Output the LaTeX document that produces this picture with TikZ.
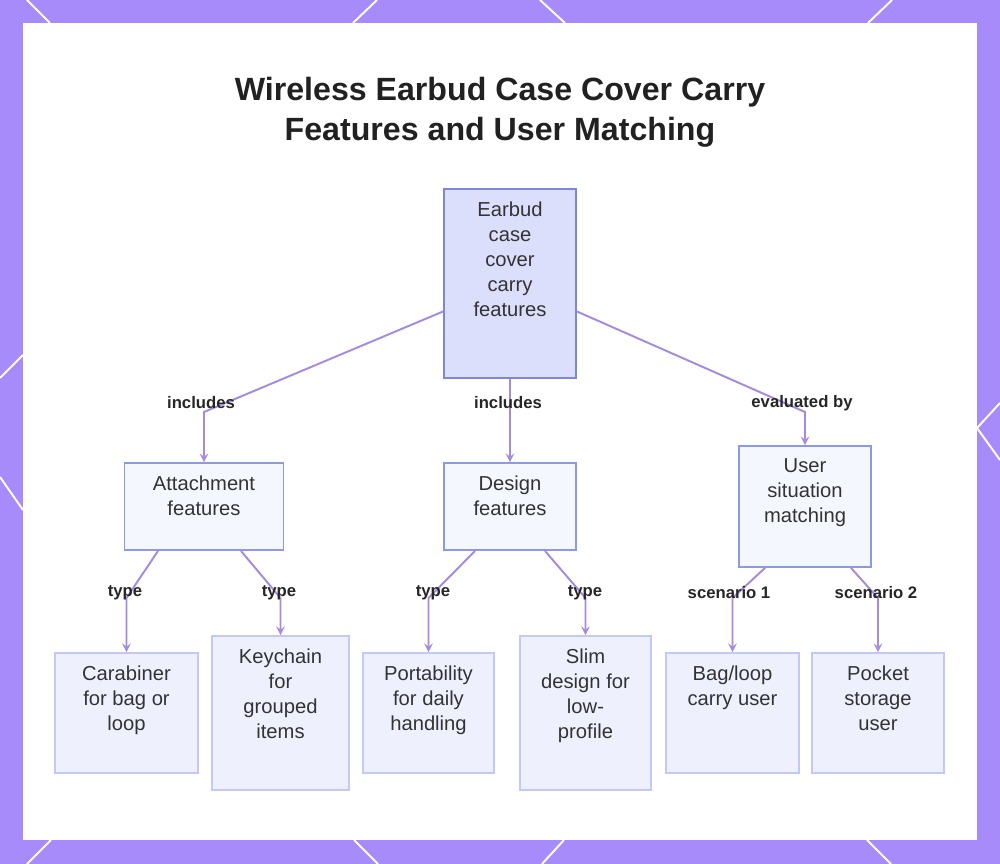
\documentclass[tikz,border=0pt]{standalone}
\usepackage{fontspec}
\setmainfont{Liberation Sans}
\usetikzlibrary{arrows,calc,positioning}
\definecolor{frame}{HTML}{A78BFA}
\definecolor{rootfill}{HTML}{DCDFFC}
\definecolor{rootline}{HTML}{7C87D6}
\definecolor{midfill}{HTML}{F5F7FF}
\definecolor{midline}{HTML}{8A9AE8}
\definecolor{leaffill}{HTML}{EEF1FD}
\definecolor{leafline}{HTML}{C3C9F5}
\definecolor{linkc}{HTML}{A48AE2}
\definecolor{ink}{HTML}{333333}
\newlength\px
\setlength\px{0.02cm}
\newcommand{\boxtext}[3]{\parbox[c][#2\px][t]{#1\px}{\centering\vspace*{7.3pt}#3}}
\tikzset{
    > = stealth,
    card/.style = {
        inner sep = 0pt,
        text = ink,
        font = \fontsize{11.5}{14.2}\selectfont
    },
    rootbox/.style = {card, draw = rootline, fill = rootfill, line width = 1.1pt},
    midbox/.style = {card, draw = midline, fill = midfill, line width = 1.1pt},
    leafbox/.style = {card, draw = leafline, fill = leaffill, line width = 1.1pt},
    link/.style = {
        arrows = ->,
        draw = linkc,
        line width = 1.1pt
    },
    tag/.style = {
        font = \fontsize{9.5}{11}\selectfont\bfseries,
        text = black!85,
        inner sep = 1pt
    },
    deco/.style = {draw = white, line width = 1.1pt}
}

\begin{document}
\begin{tikzpicture}[x=0.02cm, y=-0.02cm]
\useasboundingbox (0,0) rectangle (1000,864);
%frame
\fill[frame] (0,0) rectangle (1000,864);
\draw[deco] (27,0) -- (50,23);
\draw[deco] (377,0) -- (353,23);
\draw[deco] (540,0) -- (565,23);
\draw[deco] (892,0) -- (868,23);
\draw[deco] (0,378) -- (23,355);
\draw[deco] (0,477) -- (23,510);
\draw[deco] (1000,403) -- (977,428) -- (1000,460);
\draw[deco] (51,840) -- (27,864);
\draw[deco] (354,840) -- (378,864);
\draw[deco] (564,840) -- (542,864);
\draw[deco] (867,840) -- (891,864);
\fill[white] (23,23) rectangle (977,840);

%title
\node (title) at (500,112) [align=center, text=black!87, font=\fontsize{18.3}{22.7}\selectfont\bfseries]
    {Wireless Earbud Case Cover Carry\\Features and User Matching};

%boxes
\node (root) at (510,283.5) [rootbox]{\boxtext{132}{189}{Earbud\\case\\cover\\carry\\features}};
\node (attach) at (204,506.5) [midbox]{\boxtext{159}{87}{Attachment\\features}};
\node (design) at (510,506.5) [midbox]{\boxtext{132}{87}{Design\\features}};
\node (usermatch) at (805,506.5) [midbox]{\boxtext{132}{121}{User\\situation\\matching}};

\node (carab) at (126.5,713) [leafbox]{\boxtext{143}{120}{Carabiner\\for bag or\\loop}};
\node (keych) at (280.5,713) [leafbox]{\boxtext{137}{154}{Keychain\\for\\grouped\\items}};
\node (porta) at (428.5,713) [leafbox]{\boxtext{131}{120}{Portability\\for daily\\handling}};
\node (slim) at (585.5,713) [leafbox]{\boxtext{131}{154}{Slim\\design for\\low-\\profile}};
\node (baguser) at (732.5,713) [leafbox]{\boxtext{133}{120}{Bag/loop\\carry user}};
\node (pocket) at (878,713) [leafbox]{\boxtext{132}{120}{Pocket\\storage\\user}};

%first level links
\coordinate (k1) at (204,412);
\coordinate (k3) at (805,412);
\draw[link] ($(root.west)+(0,28)$) -- (k1) -- (attach.north);
\draw[link] (root.south) -- (design.north);
\draw[link] ($(root.east)+(0,28)$) -- (k3) -- (usermatch.north);
\node (t1) at (201,403) [tag]{includes};
\node (t2) at (508,403) [tag]{includes};
\node (t3) at (802,403) [tag]{evaluated by};

%second level links
\coordinate (k4) at (126.5,598);
\coordinate (k5) at (280.5,598);
\coordinate (k6) at (428.5,598);
\coordinate (k7) at (585.5,598);
\coordinate (k8) at (732.5,598);
\coordinate (k9) at (878,598);
\draw[link] ($(attach.south)+(-46,0)$) -- (k4) -- (carab.north);
\draw[link] ($(attach.south)+(37,0)$) -- (k5) -- (keych.north);
\draw[link] ($(design.south)+(-35,0)$) -- (k6) -- (porta.north);
\draw[link] ($(design.south)+(35,0)$) -- (k7) -- (slim.north);
\draw[link] ($(usermatch.south)+(-40,0)$) -- (k8) -- (baguser.north);
\draw[link] ($(usermatch.south)+(46,0)$) -- (k9) -- (pocket.north);
\node (t4) at (125,593) [tag]{type};
\node (t5) at (279,593) [tag]{type};
\node (t6) at (433,593) [tag]{type};
\node (t7) at (585,593) [tag]{type};
\node (t8) at (729,593) [tag]{scenario 1};
\node (t9) at (876,593) [tag]{scenario 2};
\end{tikzpicture}
\end{document}
